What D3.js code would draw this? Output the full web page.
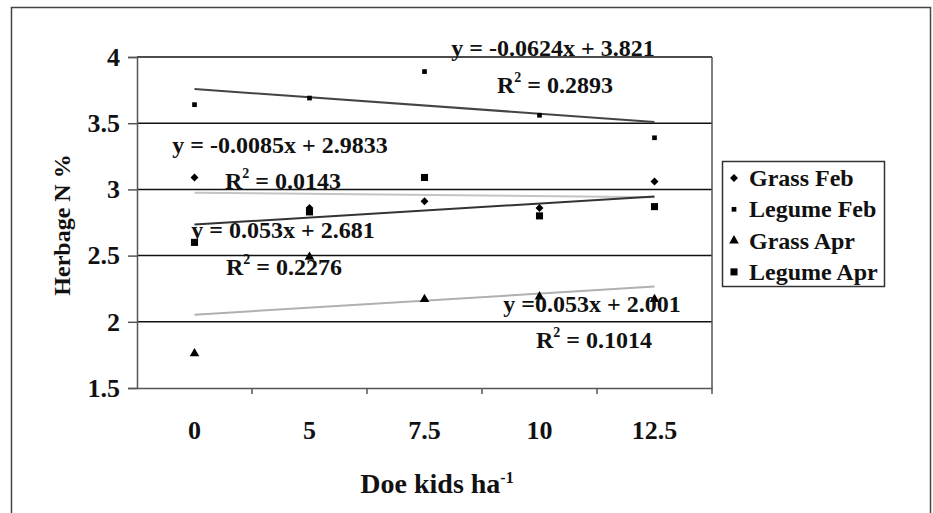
<!DOCTYPE html>
<meta charset="utf-8">
<script src="https://d3js.org/d3.v7.min.js"></script>
<style>
  body { margin: 0; background: #fff; }
  text { font-family: "Liberation Serif", "Times New Roman", serif; font-weight: bold; fill: #111; }
</style>
<div id="chart"></div>
<script>
// data
var doses = ["0", "5", "7.5", "10", "12.5"];
var grassFeb  = [3.09, 2.86, 2.91, 2.86, 3.06];
var legumeFeb = [3.64, 3.69, 3.89, 3.56, 3.39];
var grassApr  = [1.76, 2.49, 2.17, 2.19, 2.17];
var legumeApr = [2.60, 2.83, 3.09, 2.80, 2.87];
var seriesNames = ["Grass Feb", "Legume Feb", "Grass Apr", "Legume Apr"];
var yTicks = [1.5, 2, 2.5, 3, 3.5, 4];

// trendline equations shown on the chart (x = category index 1..5)
var trendSlopes     = [-0.0085, -0.0624, 0.053, 0.053];
var trendIntercepts = [2.9833, 3.821, 2.001, 2.681];
var trendEqText     = ["y = -0.0085x + 2.9833", "y = -0.0624x + 3.821", "y =0.053x + 2.001", "y = 0.053x + 2.681"];
var trendR2         = ["0.0143", "0.2893", "0.1014", "0.2276"];

var W = 933, H = 513;
var margin = {top: 57, left: 137, right: 712, bottom: 388};

var svg = d3.select("#chart").append("svg")
  .attr("width", W).attr("height", H);

// outer frame
svg.append("rect")
  .attr("x", 11.5).attr("y", 7.5).attr("width", 919).attr("height", 520)
  .attr("fill", "none").attr("stroke", "#444").attr("stroke-width", 1.5);

var x = d3.scaleBand().domain(doses).range([margin.left, margin.right]);
var y = d3.scaleLinear().domain([1.5, 4]).range([margin.bottom, margin.top]);
var cx = function(i) { return x(doses[i]) + x.bandwidth() / 2; };

// gridlines
svg.append("g").selectAll("line").data(yTicks.slice(1)).join("line")
  .attr("x1", margin.left).attr("x2", margin.right)
  .attr("y1", function(d) { return y(d); }).attr("y2", function(d) { return y(d); })
  .attr("stroke", "#111").attr("stroke-width", 1.5);

// right border of plot area
svg.append("line")
  .attr("x1", margin.right).attr("x2", margin.right)
  .attr("y1", margin.top).attr("y2", margin.bottom)
  .attr("stroke", "#555").attr("stroke-width", 1.5);

// y axis
var yAxis = svg.append("g")
  .attr("transform", "translate(" + margin.left + ",0)")
  .call(d3.axisLeft(y).tickValues(yTicks).tickSize(9).tickPadding(8).tickFormat(d3.format("")));
yAxis.select(".domain").attr("stroke", "#555").attr("stroke-width", 1.5);
yAxis.selectAll(".tick line").attr("stroke", "#555").attr("stroke-width", 1.5);
yAxis.selectAll("text").attr("font-size", 26).attr("font-family", null).attr("fill", "#111");

// x axis: ticks between categories
var xAxis = svg.append("g")
  .attr("transform", "translate(0," + margin.bottom + ")")
  .call(d3.axisBottom(x).tickSize(0).tickPadding(33));
xAxis.select(".domain").attr("stroke", "#555").attr("stroke-width", 1.5);
xAxis.selectAll("text").attr("font-size", 26).attr("font-family", null).attr("fill", "#111");
svg.append("g").selectAll("line").data(doses).join("line")
  .attr("x1", function(d) { return x(d) + x.bandwidth(); })
  .attr("x2", function(d) { return x(d) + x.bandwidth(); })
  .attr("y1", margin.bottom).attr("y2", margin.bottom + 6)
  .attr("stroke", "#555").attr("stroke-width", 1.5);

// axis titles
svg.append("text")
  .attr("transform", "translate(70,225) rotate(-90)")
  .attr("text-anchor", "middle").attr("font-size", 24)
  .text("Herbage N %");
var xt = svg.append("text")
  .attr("x", 437).attr("y", 493)
  .attr("text-anchor", "middle").attr("font-size", 28);
xt.append("tspan").text("Doe kids ha");
xt.append("tspan").attr("font-size", 16).attr("dy", -10).text("-1");

// trendlines
var trendColors = ["#c4c4c4", "#444", "#b0b0b0", "#333"];
var trendOrder = [0, 1, 2, 3];
svg.append("g").selectAll("line").data(trendOrder).join("line")
  .attr("x1", cx(0)).attr("x2", cx(4))
  .attr("y1", function(k) { return y(trendSlopes[k] * 1 + trendIntercepts[k]); })
  .attr("y2", function(k) { return y(trendSlopes[k] * 5 + trendIntercepts[k]); })
  .attr("stroke", function(k) { return trendColors[k]; })
  .attr("stroke-width", 2);

// markers
var allSeries = [grassFeb, legumeFeb, grassApr, legumeApr];
var symbols = [
  d3.symbol().type(d3.symbolDiamond2).size(40),
  d3.symbol().type(d3.symbolSquare).size(22),
  d3.symbol().type(d3.symbolTriangle).size(40),
  d3.symbol().type(d3.symbolSquare).size(50)
];
allSeries.forEach(function(s, k) {
  svg.append("g").selectAll("path").data(s).join("path")
    .attr("transform", function(d, i) { return "translate(" + cx(i) + "," + y(d) + ")"; })
    .attr("d", symbols[k]())
    .attr("fill", "#000");
});

// equation labels
var eqPos = [[280, 153, 283, 189], [553, 56, 555, 93], [592, 312, 594, 348], [283, 238, 284, 275]];
trendOrder.forEach(function(k) {
  svg.append("text")
    .attr("x", eqPos[k][0]).attr("y", eqPos[k][1])
    .attr("text-anchor", "middle").attr("font-size", 24)
    .text(trendEqText[k]);
  var r = svg.append("text")
    .attr("x", eqPos[k][2]).attr("y", eqPos[k][3])
    .attr("text-anchor", "middle").attr("font-size", 24);
  r.append("tspan").text("R");
  r.append("tspan").attr("font-size", 14).attr("dy", -11).text("2");
  r.append("tspan").attr("dy", 11).text(" = " + trendR2[k]);
});

// legend
var lg = svg.append("g");
lg.append("rect")
  .attr("x", 722.5).attr("y", 161.5).attr("width", 162).attr("height", 125)
  .attr("fill", "#fff").attr("stroke", "#333").attr("stroke-width", 1.5);
seriesNames.forEach(function(name, k) {
  var ly = 178 + k * 31.3;
  lg.append("path")
    .attr("transform", "translate(734," + ly + ")")
    .attr("d", symbols[k]()).attr("fill", "#000");
  lg.append("text")
    .attr("x", 749).attr("y", ly + 8)
    .attr("font-size", 24)
    .text(name);
});
</script>
